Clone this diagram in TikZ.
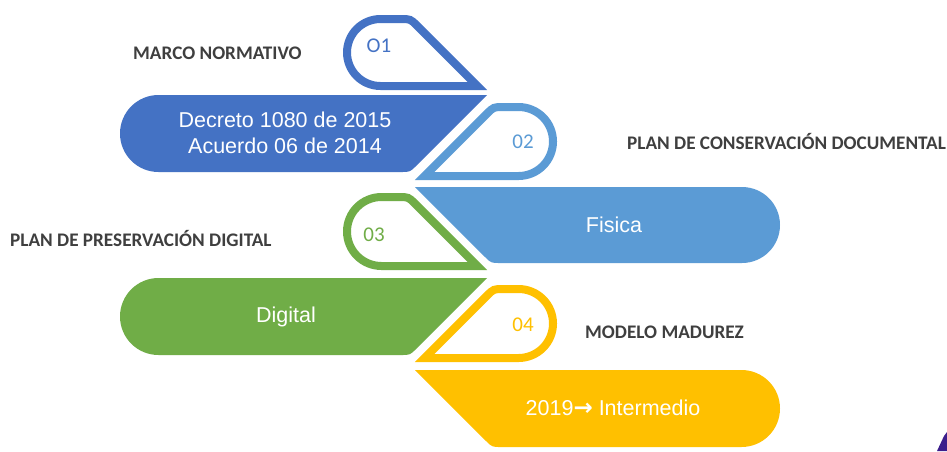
\documentclass[tikz,border=0pt]{standalone}
\usepackage{fontspec}
\setmainfont{Liberation Sans}
\newfontfamily\lblfont{Carlito}
\newfontfamily\arrowfont{DejaVu Sans}
\definecolor{cA}{HTML}{4472C4}
\definecolor{cB}{HTML}{5B9BD5}
\definecolor{cC}{HTML}{70AD47}
\definecolor{cD}{HTML}{FFC000}
\definecolor{lbl}{HTML}{3F3F3F}
\definecolor{purp}{HTML}{3C1E8C}
\begin{document}
\begin{tikzpicture}[x=1pt,y=-1pt,
  droplet/.style={line width=8pt, line join=miter, miter limit=10},
  bandtext/.style={text=white, font=\fontsize{21.5}{26}\selectfont, align=center, inner sep=0pt},
  numtext/.style={font=\lblfont\fontsize{21}{24}\selectfont, inner sep=0pt},
  title/.style={text=lbl, font=\lblfont\bfseries\fontsize{19.2}{23}\selectfont, inner sep=0pt, anchor=base west}]
\useasboundingbox[fill=white] (0,0) rectangle (947,451);

% bands
\fill[cA] (158.5,95) -- (487,95) -- (416.4,165.6) .. controls (410,172) .. (401,172) -- (158.5,172) arc[start angle=90,end angle=270,radius=38.5] -- cycle;
\fill[cB] (742,187) -- (415,187) -- (484.6,256.6) .. controls (491,263) .. (500,263) -- (742,263) arc[start angle=90,end angle=-90,radius=38] -- cycle;
\fill[cC] (158.5,278) -- (487,278) -- (416.4,348.6) .. controls (410,355) .. (401,355) -- (158.5,355) arc[start angle=90,end angle=270,radius=38.5] -- cycle;
\fill[cD] (741.5,370) -- (415,370) -- (485.6,440.6) .. controls (492,447) .. (501,447) -- (741.5,447) arc[start angle=90,end angle=-90,radius=38.5] -- cycle;

% drops
\draw[droplet, cA] (477.4,86) -- (417.1,25.7) .. controls (410.4,19) .. (400.4,19) -- (380.5,19) arc[start angle=270,end angle=90,radius=33.5] -- cycle;
\draw[droplet, cB] (424.6,176) -- (486.9,113.7) .. controls (493.6,107) .. (503.6,107) -- (518.5,107) arc[start angle=270,end angle=450,radius=34.5] -- cycle;
\draw[droplet, cC] (477.4,266) -- (415.1,203.7) .. controls (408.4,197) .. (398.4,197) -- (381.5,197) arc[start angle=270,end angle=90,radius=34.5] -- cycle;
\draw[droplet, cD] (424.6,358) -- (486.9,295.7) .. controls (493.6,289) .. (503.6,289) -- (518.5,289) arc[start angle=270,end angle=450,radius=34.5] -- cycle;

% numbers
\node[numtext, text=cA] (n1) at (379,46) {O1};
\node[numtext, text=cB] (n2) at (523,142) {02};
\node[numtext, text=cC] (n3) at (374,235) {03};
\node[numtext, text=cD] (n4) at (523,325) {04};

% band texts
\node[bandtext] (t1) at (285,133) {Decreto 1080 de 2015\\Acuerdo 06 de 2014};
\node[bandtext] (t2) at (614,225) {Fisica};
\node[bandtext] (t3) at (286,317) {Digital};
\node[bandtext] (t4) at (613,408) {2019{\arrowfont\bfseries\fontsize{23}{26}\selectfont →} Intermedio};

% titles
\node[title] (l1) at (133,59) {MARCO NORMATIVO};
\node[title] (l2) at (627,149) {PLAN DE CONSERVACIÓN DOCUMENTAL};
\node[title] (l3) at (10,246) {PLAN DE PRESERVACIÓN DIGITAL};
\node[title] (l4) at (585,338) {MODELO MADUREZ};

% corner fragment
\fill[purp] (944,436) -- (947,432) -- (947,451) -- (937,451) -- cycle;
\end{tikzpicture}
\end{document}
